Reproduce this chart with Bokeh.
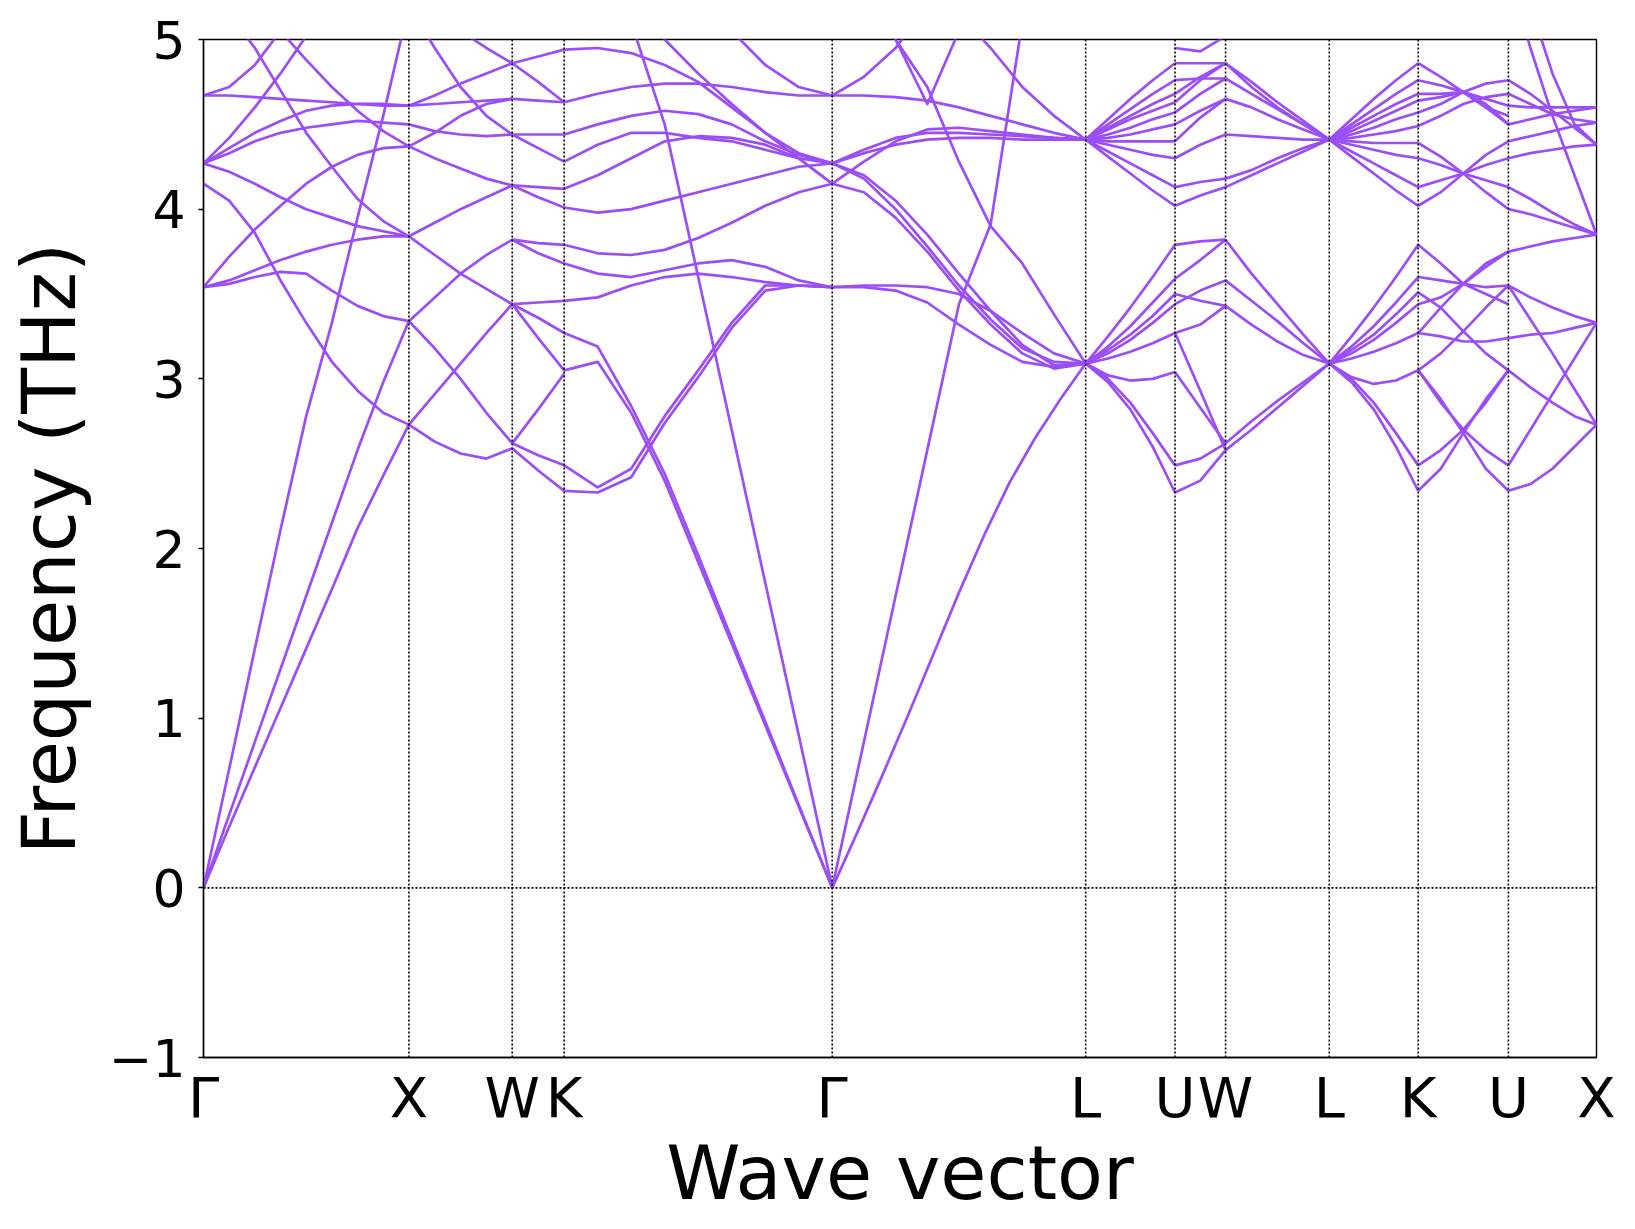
import numpy as np
from bokeh.plotting import figure
from bokeh.models import FixedTicker, Span, CustomJSTickFormatter
from bokeh.embed import file_html
from bokeh.resources import INLINE

# High-symmetry points along the path and their cumulative path distance
kpath_labels = ["Γ", "X", "W", "K", "Γ", "L", "U", "W", "L", "K", "U", "X"]
kpath_dist = [0.0, 1.0, 1.503, 1.756, 3.061, 4.295, 4.730, 4.976, 5.481, 5.914, 6.353, 6.782]

# Phonon frequencies (THz) per segment; each band is sampled evenly between the two end points
bands_G_X = [
    [0, 0.70, 1.41, 2.11, 2.78, 3.33, 3.95, 4.55, 5.2],
    [0, 0.43, 0.86, 1.29, 1.72, 2.15, 2.58, 2.98, 3.34],
    [0, 0.36, 0.71, 1.06, 1.41, 1.76, 2.12, 2.43, 2.73],
    [4.15, 4.05, 3.86, 3.58, 3.33, 3.10, 2.93, 2.80, 2.73],
    [3.54, 3.56, 3.60, 3.63, 3.62, 3.52, 3.43, 3.37, 3.34],
    [3.54, 3.58, 3.64, 3.70, 3.75, 3.79, 3.82, 3.84, 3.84],
    [3.54, 3.72, 3.88, 4.02, 4.15, 4.25, 4.32, 4.36, 4.37],
    [4.27, 4.22, 4.15, 4.07, 4.00, 3.95, 3.90, 3.87, 3.84],
    [4.27, 4.33, 4.40, 4.45, 4.48, 4.50, 4.52, 4.51, 4.50],
    [4.27, 4.36, 4.45, 4.52, 4.58, 4.61, 4.62, 4.62, 4.61],
    [4.67, 4.67, 4.66, 4.65, 4.64, 4.63, 4.62, 4.61, 4.61],
    [4.67, 4.72, 4.85, 5.05, 5.3, 5.6, 5.9, 6.2, 6.5],
    [4.27, 4.42, 4.60, 4.80, 5.02, 5.25, 5.45, 5.65, 5.85],
    [5.9, 5.6, 5.3, 5.05, 4.88, 4.72, 4.58, 4.46, 4.37],
    [5.4, 5.15, 4.95, 4.70, 4.45, 4.25, 4.06, 3.93, 3.84],
]

bands_X_W = [
    [2.73, 2.63, 2.56, 2.53, 2.59],
    [2.73, 2.91, 3.09, 3.27, 3.44],
    [3.34, 3.18, 3.00, 2.80, 2.62],
    [3.34, 3.48, 3.62, 3.73, 3.82],
    [3.84, 3.73, 3.62, 3.53, 3.44],
    [3.84, 3.92, 4.00, 4.07, 4.14],
    [4.37, 4.30, 4.24, 4.18, 4.14],
    [4.50, 4.46, 4.44, 4.43, 4.44],
    [4.61, 4.62, 4.63, 4.64, 4.65],
    [4.61, 4.67, 4.74, 4.80, 4.86],
    [5.3, 5.2, 5.05, 4.95, 4.86],
    [4.37, 4.45, 4.55, 4.62, 4.65],
    [5.2, 4.95, 4.72, 4.55, 4.44],
]

bands_W_K = [
    [2.59, 2.46, 2.34],
    [2.62, 2.55, 2.49],
    [2.62, 2.82, 3.03],
    [3.44, 3.24, 3.05],
    [3.44, 3.36, 3.27],
    [3.44, 3.45, 3.46],
    [3.82, 3.74, 3.68],
    [3.82, 3.80, 3.79],
    [4.14, 4.07, 4.01],
    [4.14, 4.13, 4.12],
    [4.44, 4.36, 4.28],
    [4.44, 4.44, 4.44],
    [4.65, 4.64, 4.63],
    [4.86, 4.90, 4.94],
    [4.86, 4.75, 4.63],
]

bands_K_G = [
    [3.27, 3.19, 2.84, 2.44, 1.96, 1.47, 0.98, 0.49, 0],
    [3.05, 3.10, 2.80, 2.40, 1.92, 1.44, 0.96, 0.48, 0],
    [2.49, 2.36, 2.47, 2.78, 3.05, 3.33, 3.55, 3.55, 3.54],
    [2.34, 2.33, 2.42, 2.74, 3.01, 3.30, 3.52, 3.55, 3.54],
    [6.0, 5.6, 5.1, 4.5, 3.60, 2.70, 1.80, 0.90, 0],
    [3.46, 3.48, 3.55, 3.60, 3.62, 3.60, 3.57, 3.55, 3.54],
    [3.68, 3.62, 3.60, 3.64, 3.68, 3.70, 3.66, 3.58, 3.54],
    [3.79, 3.74, 3.73, 3.76, 3.83, 3.92, 4.02, 4.10, 4.15],
    [4.01, 3.98, 4.00, 4.05, 4.10, 4.15, 4.20, 4.25, 4.27],
    [4.12, 4.20, 4.30, 4.40, 4.43, 4.42, 4.38, 4.30, 4.15],
    [4.28, 4.38, 4.45, 4.45, 4.42, 4.40, 4.35, 4.30, 4.27],
    [4.44, 4.50, 4.55, 4.58, 4.56, 4.50, 4.40, 4.32, 4.27],
    [4.63, 4.68, 4.72, 4.74, 4.74, 4.72, 4.69, 4.67, 4.67],
    [4.94, 4.95, 4.92, 4.85, 4.75, 4.60, 4.45, 4.33, 4.27],
    [5.6, 5.4, 5.2, 5.0, 4.80, 4.62, 4.45, 4.30, 4.15],
    [6.0, 6.0, 5.8, 5.6, 5.4, 5.05, 4.85, 4.72, 4.67],
]

bands_G_L = [
    [0, 0.86, 1.72, 2.58, 3.44, 3.91, 5.1, 6.0, 6.5],
    [0, 0.33, 0.67, 1.02, 1.38, 1.74, 2.08, 2.39, 2.65, 2.88, 3.09],
    [3.54, 3.55, 3.55, 3.54, 3.50, 3.40, 3.27, 3.15, 3.09],
    [3.54, 3.54, 3.52, 3.45, 3.32, 3.20, 3.10, 3.07, 3.09],
    [4.27, 4.20, 4.05, 3.85, 3.62, 3.40, 3.20, 3.08, 3.09],
    [4.15, 4.10, 3.95, 3.75, 3.52, 3.32, 3.15, 3.06, 3.09],
    [4.27, 4.18, 4.00, 3.78, 3.55, 3.35, 3.18, 3.10, 3.09],
    [4.15, 4.28, 4.40, 4.47, 4.48, 4.46, 4.44, 4.42, 4.41],
    [4.27, 4.35, 4.42, 4.45, 4.45, 4.44, 4.43, 4.42, 4.41],
    [4.27, 4.33, 4.38, 4.41, 4.42, 4.42, 4.41, 4.41, 4.41],
    [4.67, 4.67, 4.66, 4.64, 4.60, 4.55, 4.50, 4.45, 4.41],
    [6.0, 6.0, 5.8, 5.5, 5.15, 4.95, 4.72, 4.55, 4.41],
    [4.67, 4.78, 4.95, 5.2, 5.5, 5.8, 6.0, 6.2, 6.4],
    [6.0, 5.6, 5.0, 4.72, 4.28, 3.90, 3.68, 3.38, 3.09],
    [6.5, 5.8, 5.0, 4.62, 5.05, 5.6, 6.2, 6.8, 7.2],
]

bands_L_U = [
    [3.09, 3.00, 2.86, 2.68, 2.49],
    [3.09, 2.98, 2.82, 2.60, 2.33],
    [3.09, 3.02, 2.99, 3.00, 3.04],
    [3.09, 3.12, 3.16, 3.21, 3.27],
    [3.09, 3.15, 3.23, 3.33, 3.44],
    [3.09, 3.17, 3.26, 3.37, 3.50],
    [3.09, 3.19, 3.31, 3.45, 3.59],
    [3.09, 3.25, 3.42, 3.60, 3.79],
    [4.41, 4.31, 4.21, 4.11, 4.02],
    [4.41, 4.34, 4.27, 4.20, 4.13],
    [4.41, 4.38, 4.35, 4.32, 4.30],
    [4.41, 4.40, 4.40, 4.40, 4.40],
    [4.41, 4.42, 4.44, 4.47, 4.50],
    [4.41, 4.44, 4.48, 4.53, 4.57],
    [4.41, 4.47, 4.53, 4.58, 4.63],
    [4.41, 4.48, 4.55, 4.62, 4.68],
    [4.41, 4.50, 4.59, 4.68, 4.76],
    [4.41, 4.53, 4.65, 4.76, 4.86],
]

bands_U_W = [
    [2.49, 2.53, 2.62],
    [2.33, 2.40, 2.58],
    [3.04, 2.83, 2.62],
    [3.27, 2.93, 2.58],
    [3.27, 3.32, 3.43],
    [3.44, 3.52, 3.58],
    [3.50, 3.46, 3.43],
    [3.59, 3.70, 3.82],
    [3.79, 3.81, 3.82],
    [4.02, 4.08, 4.13],
    [4.13, 4.16, 4.18],
    [4.30, 4.38, 4.44],
    [4.40, 4.54, 4.65],
    [4.50, 4.58, 4.65],
    [4.57, 4.68, 4.77],
    [4.63, 4.76, 4.86],
    [4.68, 4.78, 4.86],
    [4.76, 4.77, 4.77],
    [4.86, 4.86, 4.86],
    [4.95, 4.93, 5.02],
]

bands_W_L = [
    [2.62, 2.75, 2.87, 2.98, 3.09],
    [2.58, 2.70, 2.83, 2.96, 3.09],
    [3.43, 3.32, 3.22, 3.14, 3.09],
    [3.58, 3.46, 3.34, 3.21, 3.09],
    [3.82, 3.62, 3.44, 3.26, 3.09],
    [4.13, 4.20, 4.27, 4.34, 4.41],
    [4.18, 4.23, 4.30, 4.36, 4.41],
    [4.44, 4.43, 4.42, 4.41, 4.41],
    [4.65, 4.60, 4.53, 4.47, 4.41],
    [4.77, 4.68, 4.59, 4.50, 4.41],
    [4.86, 4.75, 4.63, 4.52, 4.41],
    [4.86, 4.72, 4.60, 4.50, 4.41],
]

bands_L_K = [
    [3.09, 3.00, 2.86, 2.68, 2.49],
    [3.09, 2.98, 2.82, 2.60, 2.34],
    [3.09, 3.01, 2.97, 2.99, 3.05],
    [3.09, 3.12, 3.16, 3.21, 3.27],
    [3.09, 3.15, 3.23, 3.33, 3.44],
    [3.09, 3.17, 3.26, 3.38, 3.51],
    [3.09, 3.19, 3.31, 3.45, 3.60],
    [3.09, 3.25, 3.42, 3.60, 3.79],
    [4.41, 4.31, 4.21, 4.11, 4.02],
    [4.41, 4.34, 4.27, 4.20, 4.13],
    [4.41, 4.38, 4.35, 4.32, 4.30],
    [4.41, 4.40, 4.39, 4.39, 4.39],
    [4.41, 4.42, 4.44, 4.46, 4.49],
    [4.41, 4.44, 4.48, 4.53, 4.57],
    [4.41, 4.46, 4.52, 4.58, 4.64],
    [4.41, 4.48, 4.55, 4.62, 4.68],
    [4.41, 4.50, 4.59, 4.68, 4.76],
    [4.41, 4.53, 4.65, 4.76, 4.86],
]

bands_K_U = [
    [2.49, 2.58, 2.70, 2.86, 3.05],
    [2.34, 2.47, 2.68, 2.88, 3.05],
    [3.05, 2.86, 2.70, 2.58, 2.49],
    [3.05, 2.88, 2.68, 2.47, 2.34],
    [3.27, 3.25, 3.22, 3.22, 3.24],
    [3.05, 3.15, 3.28, 3.42, 3.55],
    [3.51, 3.42, 3.28, 3.15, 3.05],
    [3.27, 3.42, 3.56, 3.68, 3.75],
    [3.60, 3.58, 3.56, 3.54, 3.55],
    [3.44, 3.48, 3.56, 3.66, 3.75],
    [3.79, 3.68, 3.56, 3.50, 3.44],
    [4.02, 4.10, 4.21, 4.32, 4.40],
    [4.13, 4.17, 4.21, 4.26, 4.30],
    [4.39, 4.31, 4.21, 4.10, 4.00],
    [4.30, 4.26, 4.21, 4.17, 4.13],
    [4.49, 4.55, 4.62, 4.66, 4.68],
    [4.57, 4.62, 4.69, 4.74, 4.76],
    [4.64, 4.66, 4.69, 4.65, 4.61],
    [4.68, 4.68, 4.69, 4.62, 4.50],
    [4.76, 4.73, 4.69, 4.60, 4.55],
    [4.86, 4.78, 4.69, 4.60, 4.50],
]

bands_U_X = [
    [2.34, 2.38, 2.47, 2.60, 2.73],
    [2.49, 2.70, 2.91, 3.12, 3.33],
    [3.05, 2.95, 2.86, 2.78, 2.73],
    [3.24, 3.26, 3.27, 3.30, 3.33],
    [3.55, 3.35, 3.15, 2.94, 2.73],
    [3.55, 3.48, 3.42, 3.37, 3.33],
    [3.75, 3.78, 3.81, 3.83, 3.85],
    [4.00, 3.97, 3.93, 3.89, 3.85],
    [4.13, 4.06, 3.98, 3.91, 3.85],
    [4.30, 4.33, 4.35, 4.37, 4.38],
    [4.40, 4.43, 4.46, 4.49, 4.51],
    [4.50, 4.53, 4.56, 4.58, 4.60],
    [4.61, 4.60, 4.60, 4.60, 4.60],
    [4.68, 4.62, 4.56, 4.53, 4.51],
    [4.76, 4.68, 4.58, 4.48, 4.38],
    [5.4, 4.95, 4.55, 4.20, 3.85],
    [5.6, 5.2, 4.80, 4.50, 4.38],
]

segments = [
    (0, 1, bands_G_X), (1, 2, bands_X_W), (2, 3, bands_W_K), (3, 4, bands_K_G),
    (4, 5, bands_G_L), (5, 6, bands_L_U), (6, 7, bands_U_W), (7, 8, bands_W_L),
    (8, 9, bands_L_K), (9, 10, bands_K_U), (10, 11, bands_U_X),
]

band_color = "#9b4ef7"
font = "DejaVu Sans"

p = figure(width=1635, height=1229,
           x_range=(kpath_dist[0], kpath_dist[-1]), y_range=(-1, 5),
           output_backend="svg", toolbar_location=None,
           min_border_left=203, min_border_right=39,
           min_border_top=39, min_border_bottom=172)

p.background_fill_color = "white"
p.border_fill_color = "white"
p.outline_line_color = "black"
p.outline_line_width = 1.4
p.xgrid.visible = False
p.ygrid.visible = False

# dotted guides at each high-symmetry point and at zero frequency
for d in kpath_dist[1:-1]:
    p.add_layout(Span(location=d, dimension="height", line_color="black",
                      line_width=1.6, line_dash="2 2"))
p.add_layout(Span(location=0, dimension="width", line_color="black",
                  line_width=1.6, line_dash="2 2"))

xs, ys = [], []
for i0, i1, bands in segments:
    for vals in bands:
        xs.append(list(np.linspace(kpath_dist[i0], kpath_dist[i1], len(vals))))
        ys.append(list(vals))
p.multi_line(xs, ys, line_color=band_color, line_width=2.7, line_join="round")

# axes
p.xaxis.ticker = FixedTicker(ticks=kpath_dist)
p.xaxis.formatter = CustomJSTickFormatter(
    args=dict(pos=kpath_dist, labs=kpath_labels),
    code="""
    let best = 0, bd = 1e9;
    for (let i = 0; i < pos.length; i++) {
        const d = Math.abs(pos[i] - tick);
        if (d < bd) { bd = d; best = i; }
    }
    return labs[best];
    """)
p.yaxis.ticker = FixedTicker(ticks=[-1, 0, 1, 2, 3, 4, 5])
p.yaxis.formatter = CustomJSTickFormatter(
    code="return tick < 0 ? '\u2212' + Math.abs(tick) : String(tick);")

for ax in (p.xaxis[0], p.yaxis[0]):
    ax.axis_line_color = "black"
    ax.axis_line_width = 1.4
    ax.major_tick_line_color = "black"
    ax.major_tick_line_width = 1.4
    ax.major_tick_in = 0
    ax.minor_tick_line_color = None
    ax.major_label_text_font = font
    ax.major_label_text_color = "black"
    ax.axis_label_text_font = font
    ax.axis_label_text_font_style = "normal"
    ax.axis_label_text_color = "black"
    ax.axis_label_text_font_size = "75px"

p.xaxis.major_tick_out = 0
p.yaxis.major_tick_out = 5
p.xaxis.major_label_text_font_size = "56px"
p.yaxis.major_label_text_font_size = "52px"
p.xaxis.major_label_standoff = 7
p.yaxis.major_label_standoff = 13
p.xaxis.axis_label = "Wave vector"
p.yaxis.axis_label = "Frequency (THz)"
p.xaxis.axis_label_standoff = -4
p.yaxis.axis_label_standoff = 13

open("out.html", "w").write(file_html(p, INLINE))
